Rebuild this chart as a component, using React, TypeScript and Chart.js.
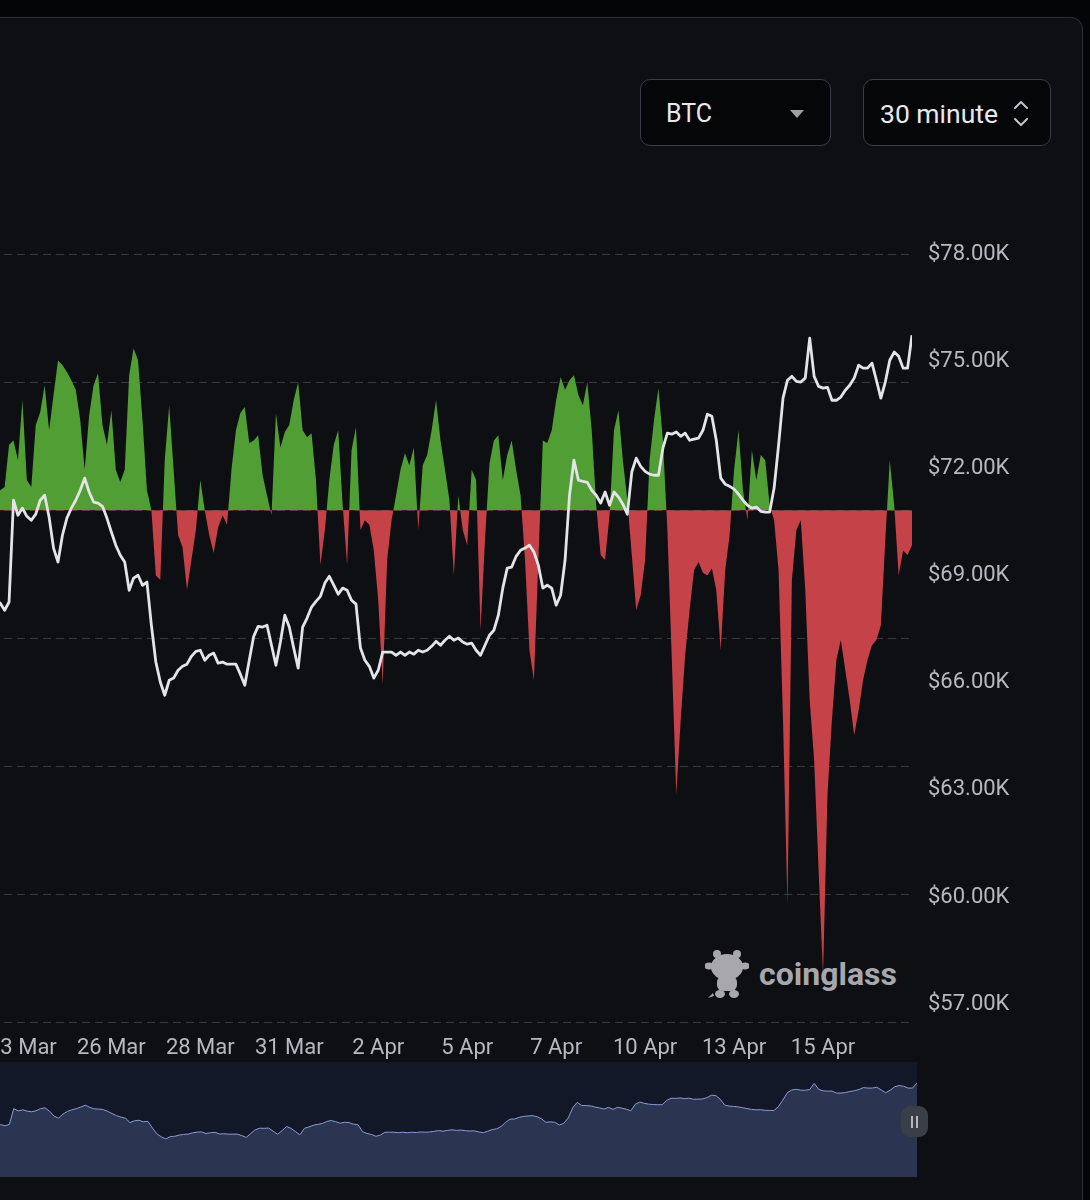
import React, { useEffect, useRef } from "react";
import { Chart, registerables } from "chart.js";

Chart.register(...registerables);

// BTC price (thousand USD), one value per 3-hour slot
const priceValues = [
  68.17, 68.31, 68.09, 68.37, 68.14, 68.23, 68.03, 68.26, 71.11, 70.69,
  70.89, 70.66, 70.55, 70.72, 71.11, 71.25, 70.64, 69.77, 69.38, 70.13,
  70.61, 70.89, 71.11, 71.39, 71.73, 71.34, 71.06, 71.03, 70.94, 70.61,
  70.22, 69.85, 69.57, 69.38, 68.59, 68.93, 69.01, 68.73, 68.82, 67.61,
  66.58, 66.02, 65.65, 66.07, 66.13, 66.35, 66.46, 66.52, 66.74, 66.88,
  66.91, 66.63, 66.77, 66.83, 66.55, 66.58, 66.52, 66.52, 66.52, 66.24,
  65.93, 66.63, 67.3, 67.58, 67.56, 67.61, 67.05, 66.49, 67.14, 67.89,
  67.56, 66.97, 66.41, 67.56, 67.81, 68.12, 68.28, 68.42, 68.79, 68.98,
  68.73, 68.48, 68.65, 68.59, 68.31, 68.2, 66.97, 66.63, 66.46, 66.13,
  66.35, 66.86, 66.86, 66.86, 66.77, 66.86, 66.77, 66.86, 66.8, 66.91,
  66.86, 66.91, 67.02, 67.16, 67.05, 67.19, 67.3, 67.19, 67.25, 67.14,
  67.08, 67.11, 66.91, 66.77, 67.05, 67.33, 67.47, 67.89, 68.65, 69.21,
  69.24, 69.54, 69.71, 69.77, 69.85, 69.66, 69.29, 68.65, 68.73, 68.65,
  68.17, 68.45, 69.43, 71.25, 72.23, 71.67, 71.64, 71.61, 71.39, 71.25,
  71.03, 71.34, 70.97, 71.34, 71.2, 71.0, 70.72, 71.9, 72.29, 72.06,
  71.92, 71.84, 71.81, 71.81, 72.57, 72.99, 72.96, 73.02, 72.9, 72.99,
  72.79, 72.82, 72.85, 73.07, 73.52, 73.46, 72.79, 71.73, 71.56, 71.5,
  71.42, 71.28, 71.11, 70.97, 70.89, 70.92, 70.8, 70.78, 70.78, 71.45,
  72.65, 73.97, 74.47, 74.58, 74.44, 74.42, 74.53, 75.65, 74.58, 74.3,
  74.25, 74.27, 73.91, 73.91, 74.0, 74.19, 74.33, 74.53, 74.89, 74.81,
  74.81, 74.95, 74.47, 73.97, 74.42, 75.03, 75.26, 75.14, 74.81, 74.81,
  75.73,
];

// Net flow (hidden left axis), same slots
const flowValues = [
  6.3, 3.1, 9.4, 4.7, 1.6, 3.1, 3.6, 10.2, 10.9, 7.8,
  17.2, 4.7, 3.6, 13.3, 15.3, 19.5, 12.5, 18.0, 23.4, 22.7,
  21.6, 20.3, 18.8, 14.1, 6.3, 14.8, 19.5, 21.4, 13.3, 10.2,
  15.6, 6.3, 4.4, 6.3, 21.1, 25.3, 23.4, 14.1, 3.1, 0,
  -10.2, -10.9, 7.8, 16.4, 6.3, -3.9, -5.8, -12.5, -7.8, -3.1,
  4.7, 0, -3.9, -6.7, -2.7, -0.8, -2.3, 6.3, 12.5, 15.2,
  16.1, 10.5, 10.9, 11.7, 5.5, 2.3, -0.8, 15.2, 9.8, 12.2,
  13.3, 17.2, 20.0, 12.5, 11.4, 12.0, 4.7, -8.6, -3.1, 4.7,
  10.2, 12.5, 0.8, -8.6, 9.4, 13.0, -3.1, -1.6, -2.3, -6.3,
  -14.1, -27.3, -7.8, -1.6, 2.3, 6.3, 8.9, 7.0, 9.8, -3.1,
  7.0, 8.6, 12.5, 17.2, 10.9, 6.3, 1.6, -10.2, 2.3, -3.1,
  -5.5, 6.3, 4.7, -18.8, -4.7, 7.3, 10.9, 11.7, 4.7, 8.6,
  10.9, 6.3, 2.3, -7.8, -21.9, -26.6, -7.8, 10.9, 10.5, 12.5,
  17.2, 20.8, 18.8, 20.3, 21.1, 18.0, 16.4, 20.0, 12.5, 0.8,
  -7.0, -7.8, -0.8, 12.5, 15.6, 7.8, 1.6, -7.0, -15.6, -13.3,
  -7.8, 7.8, 14.1, 19.1, 10.9, -3.1, -23.4, -44.5, -32.8, -22.7,
  -15.6, -9.4, -8.1, -9.8, -10.2, -9.1, -12.5, -21.9, -9.4, -3.9,
  6.3, 12.5, 3.1, -1.6, 9.4, 4.7, 8.6, 7.8, 0.8, -1.6,
  -9.4, -32.8, -61.7, -10.9, -3.1, -1.6, -12.5, -29.7, -39.1, -56.3,
  -72.7, -44.5, -32.8, -23.4, -20.3, -25.0, -29.7, -35.2, -31.3, -26.6,
  -23.4, -21.1, -20.3, -18.0, -4.7, 7.8, 0.8, -10.2, -6.3, -7.0,
  -5.5,
];

const xTickIndex = [10, 30, 50, 70, 90, 110, 130, 150, 170, 190];
const xTickLabels = ["23 Mar", "26 Mar", "28 Mar", "31 Mar", "2 Apr", "5 Apr", "7 Apr", "10 Apr", "13 Apr", "15 Apr"];
const priceTicks = [57, 60, 63, 66, 69, 72, 75, 78];
const flowTicks = [-80, -60, -40, -20, 0, 20, 40];

const FONT = "Roboto, 'Noto Sans', sans-serif";
const LABEL_COLOR = "#b6b9c0";

function MainChart() {
  const ref = useRef<HTMLCanvasElement | null>(null);
  useEffect(() => {
    if (!ref.current) return;
    const chart = new Chart(ref.current, {
      type: "line",
      data: {
        datasets: [
          {
            label: "Price",
            data: priceValues.map((v, i) => ({ x: i, y: v })),
            yAxisID: "yPrice",
            borderColor: "#e3e4e8",
            borderWidth: 2.8,
            pointRadius: 0,
            tension: 0,
            fill: false,
            borderJoinStyle: "round",
          },
          {
            label: "Flow",
            data: flowValues.map((v, i) => ({ x: i, y: v })),
            yAxisID: "yFlow",
            borderColor: "rgba(0,0,0,0)",
            borderWidth: 0,
            pointRadius: 0,
            tension: 0,
            fill: { target: "origin", above: "#509e34", below: "#c44248" },
          },
        ],
      },
      options: {
        animation: false,
        responsive: true,
        maintainAspectRatio: false,
        events: [],
        layout: { padding: 0 },
        plugins: { legend: { display: false }, tooltip: { enabled: false } },
        scales: {
          x: {
            type: "linear",
            min: 0,
            max: priceValues.length - 1,
            grid: { display: false, drawTicks: false },
            border: { display: false },
            afterBuildTicks: (axis: any) => {
              axis.ticks = xTickIndex.map((v) => ({ value: v }));
            },
            afterFit: (s: any) => {
              s.height = 40;
            },
            ticks: {
              autoSkip: false,
              maxRotation: 0,
              padding: 13,
              color: LABEL_COLOR,
              font: { family: FONT, size: 22 },
              callback: (v: any) => {
                const k = xTickIndex.indexOf(Number(v));
                return k >= 0 ? xTickLabels[k] : "";
              },
            },
          },
          yFlow: {
            type: "linear",
            position: "left",
            min: flowTicks[0],
            max: flowTicks[flowTicks.length - 1],
            afterBuildTicks: (axis: any) => {
              axis.ticks = flowTicks.map((v) => ({ value: v }));
            },
            afterFit: (s: any) => {
              s.width = 0;
            },
            ticks: { display: false },
            grid: { color: "#373a41", lineWidth: 1, drawTicks: false },
            border: { display: false, dash: [8, 5] },
          },
          yPrice: {
            type: "linear",
            position: "right",
            min: 56.5,
            max: 78,
            afterBuildTicks: (axis: any) => {
              axis.ticks = priceTicks.map((v) => ({ value: v }));
            },
            afterFit: (s: any) => {
              s.width = 170;
            },
            grid: { display: false, drawTicks: false },
            border: { display: false },
            ticks: {
              padding: 16,
              color: LABEL_COLOR,
              font: { family: FONT, size: 22 },
              callback: (v: any) => "$" + Number(v).toFixed(2) + "K",
            },
          },
        },
      },
    });
    return () => chart.destroy();
  }, []);
  return <canvas ref={ref} />;
}

function Navigator() {
  const ref = useRef<HTMLCanvasElement | null>(null);
  useEffect(() => {
    if (!ref.current) return;
    const chart = new Chart(ref.current, {
      type: "line",
      data: {
        datasets: [
          {
            label: "Price",
            data: priceValues.map((v, i) => ({ x: i, y: v })),
            borderColor: "#8b9bd2",
            borderWidth: 1,
            pointRadius: 0,
            tension: 0,
            fill: { target: "start" },
            backgroundColor: "#2b3552",
          },
        ],
      },
      options: {
        animation: false,
        responsive: true,
        maintainAspectRatio: false,
        events: [],
        layout: { padding: 0 },
        plugins: { legend: { display: false }, tooltip: { enabled: false } },
        scales: {
          x: { type: "linear", display: false, min: 0, max: priceValues.length - 1 },
          y: { type: "linear", display: false, min: 58.8, max: 79.5 },
        },
      },
    });
    return () => chart.destroy();
  }, []);
  return <canvas ref={ref} />;
}

function Mascot() {
  return (
    <svg width="44" height="50" viewBox="0 0 44 50" style={{ position: "absolute", left: 705, top: 949 }}>
      <g fill="#a7a7ad">
        <circle cx="12" cy="5" r="4" />
        <circle cx="32" cy="5" r="4" />
        <ellipse cx="4" cy="17" rx="5" ry="3.5" />
        <ellipse cx="40" cy="17" rx="5" ry="3.5" />
        <ellipse cx="22" cy="18" rx="16" ry="13" />
        <rect x="12" y="27" width="20" height="15" rx="6" />
        <ellipse cx="15" cy="45" rx="5" ry="4" />
        <ellipse cx="29" cy="45" rx="5" ry="4" />
        <path d="M8 44 L3 49 L9 47 Z" />
      </g>
    </svg>
  );
}

export default function App() {
  const btn: React.CSSProperties = {
    position: "absolute",
    top: 79,
    height: 67,
    boxSizing: "border-box",
    border: "1.5px solid #3a3d44",
    borderRadius: 10,
    background: "#050608",
    color: "#e8e9ec",
    fontFamily: FONT,
    fontSize: 25,
    lineHeight: "67px",
  };
  return (
    <div
      style={{
        position: "fixed",
        left: 0,
        top: 0,
        width: 1090,
        height: 1200,
        overflow: "hidden",
        background: "#040507",
        fontFamily: FONT,
      }}
    >
      <div
        style={{
          position: "absolute",
          left: -20,
          top: 17,
          width: 1103,
          height: 1300,
          boxSizing: "border-box",
          border: "1px solid #2c2f35",
          borderRadius: 12,
          background: "#0d0f13",
        }}
      />
      <div style={{ ...btn, left: 640, width: 191, paddingLeft: 25 }}>
        BTC
        <div
          style={{
            position: "absolute",
            left: 149,
            top: 30,
            width: 0,
            height: 0,
            borderLeft: "7px solid transparent",
            borderRight: "7px solid transparent",
            borderTop: "8px solid #9ea0a6",
          }}
        />
      </div>
      <div style={{ ...btn, left: 863, width: 188, paddingLeft: 16, fontSize: 26.5 }}>
        30 minute
        <svg width="16" height="30" viewBox="0 0 16 30" style={{ position: "absolute", left: 149, top: 19 }}>
          <path d="M2 9 L8 3 L14 9" fill="none" stroke="#c2c4c9" strokeWidth="2" strokeLinecap="round" strokeLinejoin="round" />
          <path d="M2 20 L8 26 L14 20" fill="none" stroke="#c2c4c9" strokeWidth="2" strokeLinecap="round" strokeLinejoin="round" />
        </svg>
      </div>

      <Mascot />
      <div
        style={{
          position: "absolute",
          left: 759,
          top: 954,
          fontFamily: FONT,
          fontWeight: 700,
          fontSize: 32,
          lineHeight: "40px",
          color: "#a7a7ad",
        }}
      >
        coinglass
      </div>

      <div style={{ position: "absolute", left: -25, top: 225, width: 1107, height: 837 }}>
        <MainChart />
      </div>

      <div style={{ position: "absolute", left: -22, top: 1062, width: 939, height: 115, background: "#121827" }}>
        <Navigator />
      </div>
      <div
        style={{
          position: "absolute",
          left: 901,
          top: 1106,
          width: 27,
          height: 31,
          borderRadius: 9,
          background: "#3a3e47",
          display: "flex",
          alignItems: "center",
          justifyContent: "center",
          gap: 3,
        }}
      >
        <div style={{ width: 2, height: 12, background: "#b4b7be" }} />
        <div style={{ width: 2, height: 12, background: "#b4b7be" }} />
      </div>
    </div>
  );
}
